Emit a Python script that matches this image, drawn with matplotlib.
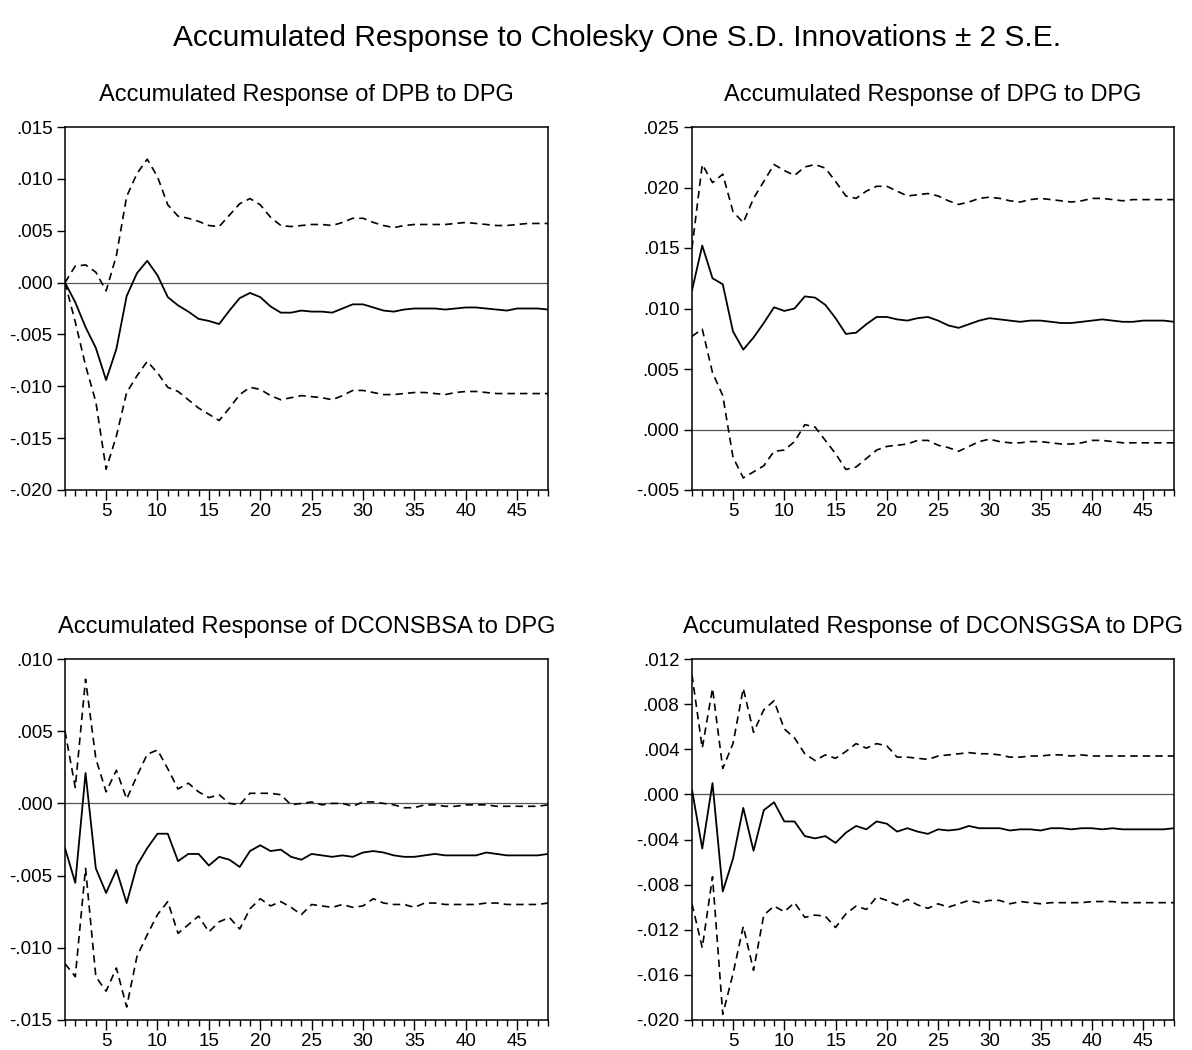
import matplotlib
matplotlib.use("Agg")
import matplotlib.pyplot as plt
from matplotlib.ticker import FuncFormatter, MultipleLocator, FixedLocator
import numpy as np

plt.rcParams['font.family'] = ['Liberation Sans', 'DejaVu Sans']

periods = list(range(1, 49))

# Panel 1: DPB to DPG
dpb_mid = [0.0, -0.0019, -0.0043, -0.0063, -0.0094, -0.0064, -0.0013, 0.0009, 0.0021, 0.0007,
           -0.0014, -0.0022, -0.0028, -0.0035, -0.0037, -0.0040, -0.0027, -0.0015, -0.0010, -0.0014,
           -0.0023, -0.0029, -0.0029, -0.0027, -0.0028, -0.0028, -0.0029, -0.0025, -0.0021, -0.0021,
           -0.0024, -0.0027, -0.0028, -0.0026, -0.0025, -0.0025, -0.0025, -0.0026, -0.0025, -0.0024,
           -0.0024, -0.0025, -0.0026, -0.0027, -0.0025, -0.0025, -0.0025, -0.0026]
dpb_up = [0.0, 0.0016, 0.0017, 0.0010, -0.0008, 0.0026, 0.0083, 0.0105, 0.0119, 0.0102,
          0.0075, 0.0064, 0.0062, 0.0059, 0.0055, 0.0054, 0.0065, 0.0076, 0.0081, 0.0075,
          0.0063, 0.0055, 0.0054, 0.0055, 0.0056, 0.0056, 0.0055, 0.0058, 0.0062, 0.0062,
          0.0058, 0.0055, 0.0053, 0.0055, 0.0056, 0.0056, 0.0056, 0.0056, 0.0057, 0.0058,
          0.0057, 0.0056, 0.0055, 0.0055, 0.0056, 0.0057, 0.0057, 0.0057]
dpb_lo = [0.0, -0.0038, -0.0080, -0.0115, -0.0180, -0.0148, -0.0106, -0.0090, -0.0076, -0.0087,
          -0.0101, -0.0105, -0.0113, -0.0121, -0.0127, -0.0133, -0.0121, -0.0108, -0.0101, -0.0103,
          -0.0109, -0.0113, -0.0111, -0.0109, -0.0110, -0.0111, -0.0113, -0.0109, -0.0104, -0.0104,
          -0.0106, -0.0108, -0.0108, -0.0107, -0.0106, -0.0106, -0.0107, -0.0108, -0.0106, -0.0105,
          -0.0105, -0.0106, -0.0107, -0.0107, -0.0107, -0.0107, -0.0107, -0.0107]

# Panel 2: DPG to DPG
dpg_mid = [0.0115, 0.0152, 0.0125, 0.0120, 0.0081, 0.0066, 0.0076, 0.0088, 0.0101, 0.0098,
           0.0100, 0.0110, 0.0109, 0.0103, 0.0092, 0.0079, 0.0080, 0.0087, 0.0093, 0.0093,
           0.0091, 0.0090, 0.0092, 0.0093, 0.0090, 0.0086, 0.0084, 0.0087, 0.0090, 0.0092,
           0.0091, 0.0090, 0.0089, 0.0090, 0.0090, 0.0089, 0.0088, 0.0088, 0.0089, 0.0090,
           0.0091, 0.0090, 0.0089, 0.0089, 0.0090, 0.0090, 0.0090, 0.0089]
dpg_up = [0.0150, 0.0219, 0.0204, 0.0211, 0.0180, 0.0171, 0.0191, 0.0205, 0.0219, 0.0214,
          0.0210, 0.0217, 0.0219, 0.0216, 0.0205, 0.0193, 0.0191, 0.0197, 0.0201, 0.0201,
          0.0197, 0.0193, 0.0194, 0.0195, 0.0193, 0.0189, 0.0186, 0.0188, 0.0191, 0.0192,
          0.0191, 0.0189, 0.0188, 0.0190, 0.0191, 0.0190, 0.0189, 0.0188, 0.0189, 0.0191,
          0.0191, 0.0190, 0.0189, 0.0190, 0.0190, 0.0190, 0.0190, 0.0190]
dpg_lo = [0.0077, 0.0083, 0.0047, 0.0028, -0.0023, -0.0040, -0.0035, -0.0030, -0.0018, -0.0017,
          -0.0010, 0.0004, 0.0002, -0.0009, -0.0020, -0.0033, -0.0031, -0.0024, -0.0017, -0.0014,
          -0.0013, -0.0012, -0.0009, -0.0009, -0.0013, -0.0015, -0.0018, -0.0014, -0.0010, -0.0008,
          -0.0010, -0.0011, -0.0011, -0.0010, -0.0010, -0.0011, -0.0012, -0.0012, -0.0011, -0.0009,
          -0.0009, -0.0010, -0.0011, -0.0011, -0.0011, -0.0011, -0.0011, -0.0011]

# Panel 3: DCONSBSA to DPG
cb_mid = [-0.0031, -0.0055, 0.0021, -0.0045, -0.0062, -0.0046, -0.0069, -0.0043, -0.0031, -0.0021,
          -0.0021, -0.0040, -0.0035, -0.0035, -0.0043, -0.0037, -0.0039, -0.0044, -0.0033, -0.0029,
          -0.0033, -0.0032, -0.0037, -0.0039, -0.0035, -0.0036, -0.0037, -0.0036, -0.0037, -0.0034,
          -0.0033, -0.0034, -0.0036, -0.0037, -0.0037, -0.0036, -0.0035, -0.0036, -0.0036, -0.0036,
          -0.0036, -0.0034, -0.0035, -0.0036, -0.0036, -0.0036, -0.0036, -0.0035]
cb_up = [0.0050, 0.0011, 0.0086, 0.0031, 0.0008, 0.0023, 0.0003, 0.0019, 0.0034, 0.0037,
         0.0024, 0.0010, 0.0014, 0.0008, 0.0004, 0.0006, 0.0000, -0.0001, 0.0007, 0.0007,
         0.0007, 0.0006, -0.0001, 0.0000, 0.0001, -0.0001, 0.0000, 0.0000, -0.0002, 0.0001,
         0.0001, 0.0000, -0.0001, -0.0003, -0.0003, -0.0001, -0.0001, -0.0002, -0.0002, -0.0001,
         -0.0001, -0.0001, -0.0002, -0.0002, -0.0002, -0.0002, -0.0002, -0.0001]
cb_lo = [-0.0111, -0.0120, -0.0045, -0.0120, -0.0130, -0.0114, -0.0141, -0.0106, -0.0091, -0.0077,
         -0.0068, -0.0090, -0.0084, -0.0078, -0.0089, -0.0082, -0.0079, -0.0087, -0.0073, -0.0066,
         -0.0071, -0.0068, -0.0072, -0.0077, -0.0070, -0.0071, -0.0072, -0.0070, -0.0072, -0.0071,
         -0.0066, -0.0069, -0.0070, -0.0070, -0.0072, -0.0069, -0.0069, -0.0070, -0.0070, -0.0070,
         -0.0070, -0.0069, -0.0069, -0.0070, -0.0070, -0.0070, -0.0070, -0.0069]

# Panel 4: DCONSGSA to DPG
cg_mid = [0.0004, -0.0048, 0.0010, -0.0086, -0.0057, -0.0012, -0.0050, -0.0014, -0.0007, -0.0024,
          -0.0024, -0.0037, -0.0039, -0.0037, -0.0043, -0.0034, -0.0028, -0.0031, -0.0024, -0.0026,
          -0.0033, -0.0030, -0.0033, -0.0035, -0.0031, -0.0032, -0.0031, -0.0028, -0.0030, -0.0030,
          -0.0030, -0.0032, -0.0031, -0.0031, -0.0032, -0.0030, -0.0030, -0.0031, -0.0030, -0.0030,
          -0.0031, -0.0030, -0.0031, -0.0031, -0.0031, -0.0031, -0.0031, -0.0030]
cg_up = [0.0106, 0.0041, 0.0094, 0.0023, 0.0045, 0.0094, 0.0055, 0.0075, 0.0083, 0.0058,
         0.0050, 0.0036, 0.0030, 0.0035, 0.0032, 0.0038, 0.0045, 0.0041, 0.0045, 0.0043,
         0.0033, 0.0033, 0.0032, 0.0031, 0.0034, 0.0035, 0.0036, 0.0037, 0.0036, 0.0036,
         0.0035, 0.0033, 0.0033, 0.0034, 0.0034, 0.0035, 0.0035, 0.0034, 0.0035, 0.0034,
         0.0034, 0.0034, 0.0034, 0.0034, 0.0034, 0.0034, 0.0034, 0.0034]
cg_lo = [-0.0097, -0.0136, -0.0073, -0.0195, -0.0159, -0.0117, -0.0156, -0.0107, -0.0099, -0.0104,
         -0.0096, -0.0109, -0.0107, -0.0108, -0.0118, -0.0106, -0.0099, -0.0102, -0.0091, -0.0094,
         -0.0098, -0.0093, -0.0098, -0.0101, -0.0097, -0.0100, -0.0097, -0.0094, -0.0096, -0.0094,
         -0.0094, -0.0097, -0.0095, -0.0096, -0.0097, -0.0096, -0.0096, -0.0096, -0.0096, -0.0095,
         -0.0095, -0.0095, -0.0096, -0.0096, -0.0096, -0.0096, -0.0096, -0.0096]

titles = ["Accumulated Response of DPB to DPG",
          "Accumulated Response of DPG to DPG",
          "Accumulated Response of DCONSBSA to DPG",
          "Accumulated Response of DCONSGSA to DPG"]
main_title = "Accumulated Response to Cholesky One S.D. Innovations \u00b1 2 S.E."

panels = [
    (dpb_mid, dpb_up, dpb_lo, (-0.020, 0.015), 0.005),
    (dpg_mid, dpg_up, dpg_lo, (-0.005, 0.025), 0.005),
    (cb_mid, cb_up, cb_lo, (-0.015, 0.010), 0.005),
    (cg_mid, cg_up, cg_lo, (-0.020, 0.012), 0.004),
]

W, H = 1192, 1050
fig = plt.figure(figsize=(W / 100, H / 100), dpi=100)

# axes rectangles in pixels: left, right, top, bottom
rects = [(65, 548, 127, 490), (692, 1174, 127, 490),
         (65, 548, 659, 1020), (692, 1174, 659, 1020)]


def fmt(v, pos):
    s = "%.3f" % v
    if s.startswith("0."):
        s = s[1:]
    elif s.startswith("-0."):
        s = "-" + s[2:]
    if s == "-.000":
        s = ".000"
    return s


for (mid, up, lo, ylim, step), (l, r, t, b), title in zip(panels, rects, titles):
    ax = fig.add_axes([l / W, 1 - b / H, (r - l) / W, (b - t) / H])
    ax.axhline(0, color="#555555", lw=0.9, zorder=1)
    ax.plot(periods, up, color="black", lw=1.2, linestyle=(0, (4.5, 3)))
    ax.plot(periods, lo, color="black", lw=1.2, linestyle=(0, (4.5, 3)))
    ax.plot(periods, mid, color="black", lw=1.3)
    ax.set_xlim(1, 48)
    ax.set_ylim(*ylim)
    ax.yaxis.set_major_locator(MultipleLocator(step))
    ax.yaxis.set_major_formatter(FuncFormatter(fmt))
    ax.xaxis.set_major_locator(FixedLocator([5, 10, 15, 20, 25, 30, 35, 40, 45]))
    ax.xaxis.set_minor_locator(MultipleLocator(1))
    ax.tick_params(axis="both", which="major", direction="out", length=6, width=1,
                   labelsize=13.5, top=False, right=False, color="black")
    ax.tick_params(axis="x", which="major", length=7)
    ax.tick_params(axis="x", which="minor", direction="out", length=4.5, width=1,
                   top=False)
    ax.tick_params(axis="x", pad=2)
    ax.tick_params(axis="y", pad=3)
    for sp in ax.spines.values():
        sp.set_linewidth(1.1)
    ax.set_title(title, fontsize=17, pad=19)

fig.text(0.518, 1 - 38 / H, main_title, ha="center", va="center", fontsize=21.5)

fig.savefig("out.png", dpi=100)
